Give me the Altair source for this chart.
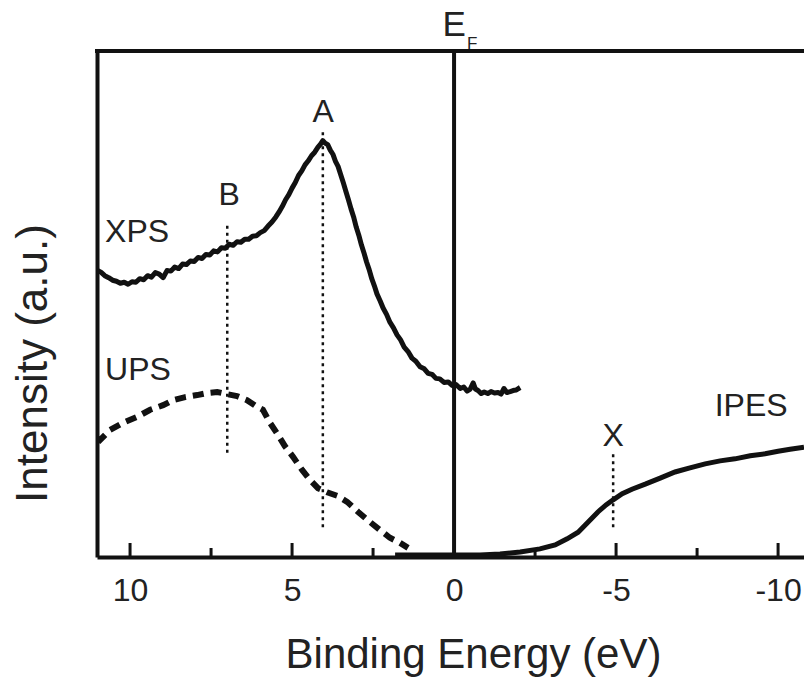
import altair as alt
import pandas as pd

# ---------------- data ----------------
xps_energy = [11.02, 10.90, 10.78, 10.66, 10.54, 10.42, 10.30, 10.18, 10.06, 9.94, 9.82, 9.70,
              9.58, 9.46, 9.34, 9.22, 9.10, 8.98, 8.86, 8.74, 8.62, 8.50, 8.38, 8.26, 8.14, 8.02,
              7.90, 7.78, 7.66, 7.54, 7.42, 7.30, 7.18, 7.06, 6.94, 6.82, 6.70, 6.58, 6.46, 6.34,
              6.22, 6.10, 5.98, 5.86, 5.74, 5.62, 5.50, 5.40, 5.30, 5.20, 5.10, 5.00, 4.90, 4.80,
              4.70, 4.60, 4.50, 4.40, 4.30, 4.20, 4.12, 4.05, 3.98, 3.90, 3.82, 3.74, 3.66, 3.58,
              3.50, 3.42, 3.34, 3.26, 3.18, 3.10, 3.02, 2.94, 2.86, 2.78, 2.70, 2.62, 2.54, 2.46,
              2.38, 2.28, 2.19, 2.08, 1.98, 1.87, 1.76, 1.65, 1.54, 1.42, 1.30, 1.18, 1.05, 0.92,
              0.80, 0.68, 0.56, 0.44, 0.31, 0.18, 0.06, -0.06, -0.19, -0.30, -0.40, -0.50, -0.59,
              -0.66, -0.74, -0.84, -0.93, -1.04, -1.14, -1.25, -1.36, -1.45, -1.54, -1.63, -1.73,
              -1.82, -1.91, -2.04]
xps_intensity = [56.7, 56.3, 55.6, 55.2, 54.7, 54.5, 54.1, 54.3, 53.9, 54.4, 54.3, 55.0,
                 54.8, 55.6, 55.3, 56.2, 55.9, 55.2, 56.6, 56.5, 57.3, 57.0, 57.9, 57.8, 58.5, 58.4,
                 59.2, 59.0, 59.8, 59.7, 60.5, 60.3, 61.1, 61.0, 61.8, 61.6, 62.3, 62.2, 62.8, 62.8,
                 63.4, 63.5, 64.1, 64.5, 65.4, 66.2, 67.2, 68.2, 69.3, 70.6, 71.6, 72.9, 74.0, 75.4,
                 76.3, 77.5, 78.3, 79.3, 80.0, 81.0, 81.6, 82.3, 81.8, 81.5, 80.4, 79.6, 78.2, 77.2,
                 75.6, 74.0, 72.3, 70.6, 68.8, 67.2, 65.2, 63.6, 61.7, 60.1, 58.3, 56.8, 55.0, 53.6,
                 52.0, 50.6, 49.2, 47.9, 46.4, 45.3, 43.9, 42.9, 41.5, 40.6, 39.3, 38.7, 37.6, 37.2,
                 36.3, 36.1, 35.3, 35.2, 34.5, 34.6, 33.9, 34.1, 33.3, 33.6, 32.8, 33.2, 34.4,
                 33.2, 32.9, 32.3, 32.6, 32.3, 32.7, 32.4, 32.5, 32.2, 33.3, 32.5, 32.7,
                 32.9, 33.0, 33.5]

ups_energy = [11.02, 10.93, 10.62, 10.22, 9.78, 9.38, 8.98, 8.67, 8.30, 7.93, 7.62, 7.31, 7.01,
              6.70, 6.39, 6.11, 5.90, 5.68, 5.43, 5.22, 4.97, 4.69, 4.44, 4.20, 3.92, 3.61, 3.30,
              2.96, 2.59, 2.28, 1.98, 1.67, 1.42]
ups_intensity = [23.5, 23.1, 25.1, 26.5, 27.7, 29.1, 30.0, 31.0, 31.6, 32.0, 32.4, 32.6, 32.2,
                 31.8, 31.0, 29.8, 29.1, 26.5, 24.1, 21.9, 19.8, 17.2, 15.2, 13.6, 12.8, 12.1, 10.9,
                 8.9, 6.9, 5.3, 3.8, 2.8, 1.8]

ipes_energy = [1.82, 1.05, 0.12, -0.80, -1.42, -2.04, -2.65, -3.12, -3.49, -3.83, -4.14, -4.44,
               -4.69, -4.91, -5.19, -5.49, -5.90, -6.36, -6.82, -7.28, -7.75, -8.21, -8.67, -9.14,
               -9.60, -10.00, -10.37, -10.80]
ipes_intensity = [0.4, 0.4, 0.4, 0.4, 0.6, 1.0, 1.6, 2.4, 3.6, 4.9, 6.9, 8.9,
                  10.3, 11.3, 12.5, 13.4, 14.4, 15.6, 16.8, 17.6, 18.4, 19.0, 19.4, 20.0,
                  20.4, 20.9, 21.3, 21.7]

marker_names = ["A", "B", "X"]
marker_energy = [4.05, 7.0, -4.91]
marker_top = [84.4, 65.6, 20.6]
marker_bottom = [5.9, 20.6, 5.9]

label_text = ["XPS", "UPS", "IPES", "A", "B", "X"]
label_energy = [10.77, 10.77, -9.17, 4.04, 6.94, -4.91]
label_intensity = [64.2, 37.0, 29.8, 87.9, 71.5, 23.9]
label_align = ["left", "left", "center", "center", "center", "center"]

major_ticks = [10, 5, -5, -10]
minor_ticks = [7.5, 2.5, -2.5, -7.5]
axis_labels = [10, 5, 0, -5, -10]

fermi_energy = 0.0

# ---------------- chart ----------------
FONT = "Liberation Sans"
INK = "#111111"
W, H = 707, 506
MAJOR_LEN = 14 / H * 100   # tick lengths expressed on the intensity scale
MINOR_LEN = 9 / H * 100

xscale = alt.Scale(domain=[-10.80, 11.02], reverse=True, nice=False, zero=False)
yscale = alt.Scale(domain=[0, 100], nice=False, zero=False)

xps = pd.DataFrame({"e": xps_energy, "i": xps_intensity})
ups = pd.DataFrame({"e": ups_energy, "i": ups_intensity})
ipes = pd.DataFrame({"e": ipes_energy, "i": ipes_intensity})
marks_df = pd.DataFrame({"name": marker_names, "e": marker_energy,
                         "top": marker_top, "bot": marker_bottom})
labels_df = pd.DataFrame({"t": label_text, "e": label_energy, "i": label_intensity,
                          "a": label_align})
fermi_df = pd.DataFrame({"e": [fermi_energy], "lo": [0.0], "hi": [100.0]})

# inward x ticks as two-point line segments (one group per tick)
tick_rows = []
for k, v in enumerate(major_ticks):
    tick_rows += [{"e": v, "i": 0.0, "g": f"M{k}"}, {"e": v, "i": MAJOR_LEN, "g": f"M{k}"}]
for k, v in enumerate(minor_ticks):
    tick_rows += [{"e": v, "i": 0.0, "g": f"m{k}"}, {"e": v, "i": MINOR_LEN, "g": f"m{k}"}]
ticks_df = pd.DataFrame(tick_rows)

frame_df = pd.DataFrame({"i": [100]})

bottom_axis = alt.Axis(values=axis_labels, labelExpr="toString(datum.value)", ticks=False,
                       grid=False, domainColor=INK, domainWidth=4,
                       labelFont=FONT, labelFontSize=32, labelColor="#222222", labelPadding=18,
                       title="Binding Energy (eV)", titleFont=FONT, titleFontSize=42,
                       titleFontWeight="normal", titleColor="#222222", titleBaseline="alphabetic",
                       titleX=376, titleY=110, titleAlign="center")
left_axis = alt.Axis(ticks=False, labels=False, grid=False, domainColor=INK, domainWidth=4,
                     title="Intensity (a.u.)", titleFont=FONT,
                     titleFontSize=44, titleFontWeight="normal", titleColor="#222222",
                     titleAngle=270, titleBaseline="alphabetic", titleAlign="center",
                     titleX=-51, titleY=312)


def X(field="e"):
    return alt.X(f"{field}:Q", scale=xscale)


def Y(field="i"):
    return alt.Y(f"{field}:Q", scale=yscale)


xps_layer = alt.Chart(xps).mark_line(color=INK, strokeWidth=5, clip=True,
                                     strokeJoin="round").encode(
    x=alt.X("e:Q", scale=xscale, axis=bottom_axis),
    y=alt.Y("i:Q", scale=yscale, axis=left_axis),
    order=alt.Order("e:Q", sort="descending"),
)
ups_layer = alt.Chart(ups).mark_line(color=INK, strokeWidth=6, strokeDash=[11, 7],
                                     clip=True).encode(
    x=X(), y=Y(), order=alt.Order("e:Q", sort="descending"),
)
ipes_layer = alt.Chart(ipes).mark_line(color=INK, strokeWidth=5, clip=True).encode(
    x=X(), y=Y(), order=alt.Order("e:Q", sort="descending"),
)
marker_layer = alt.Chart(marks_df).mark_rule(color=INK, strokeWidth=2.5,
                                             strokeDash=[3, 4]).encode(
    x=X(), y=Y("bot"), y2="top:Q",
)
fermi_layer = alt.Chart(fermi_df).mark_rule(color=INK, strokeWidth=4).encode(
    x=X(), y=Y("lo"), y2="hi:Q",
)
tick_layer = alt.Chart(ticks_df).mark_line(color=INK, strokeWidth=3).encode(
    x=X(), y=Y(), detail="g:N", order=alt.Order("i:Q"),
)
top_frame = alt.Chart(frame_df).mark_rule(color=INK, strokeWidth=4, strokeCap="square").encode(
    y=Y("i"), x=alt.value(0), x2=alt.value(W + 2),
)
label_left = alt.Chart(labels_df[labels_df["a"] == "left"]).mark_text(
    font=FONT, fontSize=32, color="#222222", align="left", baseline="middle").encode(
    x=X(), y=Y(), text="t:N",
)
label_center = alt.Chart(labels_df[labels_df["a"] == "center"]).mark_text(
    font=FONT, fontSize=32, color="#222222", align="center", baseline="middle").encode(
    x=X(), y=Y(), text="t:N",
)
ef_df = pd.DataFrame({"t": ["E"], "e": [0.0], "i": [105.1]})
ef_sub_df = pd.DataFrame({"t": ["F"], "e": [-0.56], "i": [101.4]})
ef_layer = alt.Chart(ef_df).mark_text(font=FONT, fontSize=35, color="#222222",
                                      align="center", baseline="middle").encode(
    x=X(), y=Y(), text="t:N",
)
ef_sub_layer = alt.Chart(ef_sub_df).mark_text(font=FONT, fontSize=17, color="#222222",
                                              align="center", baseline="middle").encode(
    x=X(), y=Y(), text="t:N",
)

chart = alt.layer(
    xps_layer, fermi_layer, tick_layer, top_frame, ups_layer, ipes_layer, marker_layer,
    label_left, label_center, ef_layer, ef_sub_layer,
).properties(
    width=W, height=H,
    autosize=alt.AutoSizeParams(type="none"),
    padding={"left": 97, "top": 51, "right": 0, "bottom": 121},
    background="white",
).configure_view(stroke=None)

chart.save("out.html", embed_options={"renderer": "svg", "actions": False})
